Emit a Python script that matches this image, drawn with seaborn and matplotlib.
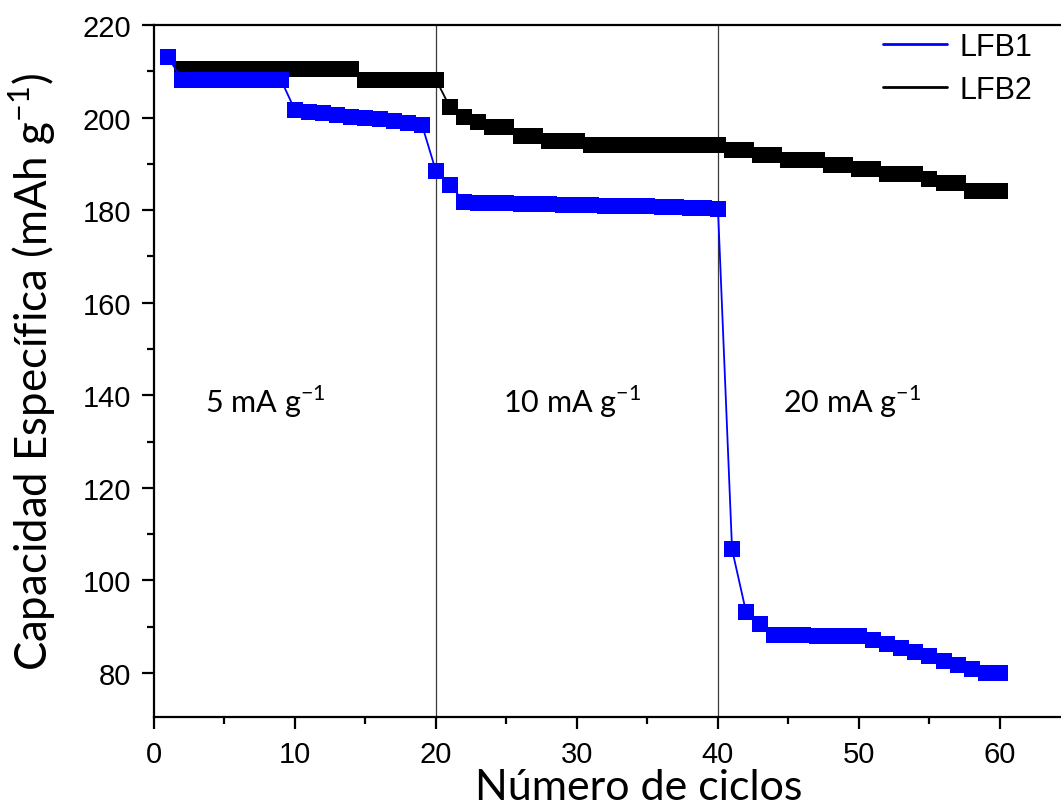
import matplotlib
matplotlib.use("Agg")
import matplotlib.pyplot as plt
import pandas as pd
import seaborn as sns
from matplotlib.lines import Line2D
from matplotlib.ticker import MultipleLocator

# Número de ciclo
cycles = list(range(1, 61))

# Capacidad específica (mAh/g) por ciclo
lfb1 = [213.0,
        208.2, 208.2, 208.2, 208.2, 208.2, 208.2, 208.2, 208.2,
        201.6, 201.3, 200.9, 200.6, 200.2, 199.9, 199.6, 199.3, 198.9, 198.5,
        188.4, 185.5,
        181.7, 181.6, 181.6, 181.5, 181.4, 181.4, 181.3, 181.2, 181.2, 181.1,
        181.0, 180.9, 180.9, 180.8, 180.7, 180.6, 180.5, 180.4, 180.3,
        106.7, 93.1, 90.6,
        88.3, 88.2, 88.2, 88.1, 88.1, 88.0, 87.9,
        87.2, 86.3, 85.4, 84.5, 83.6, 82.7, 81.8, 80.9, 80.1, 80.1]

lfb2 = [213.0,
        210.5, 210.5, 210.5, 210.5, 210.5, 210.5, 210.5, 210.5, 210.5, 210.5,
        210.5, 210.5, 210.5,
        208.2, 208.2, 208.2, 208.2, 208.2, 208.2,
        202.2, 200.2, 199.1, 198.0, 197.9, 196.0, 196.0, 195.0, 195.0, 195.0,
        194.0, 194.0, 194.0, 194.0, 194.0, 194.0, 194.0, 194.0, 194.0, 194.0,
        193.0, 193.0, 191.9, 191.9, 190.9, 190.9, 190.9, 189.8, 189.8, 188.9,
        188.9, 187.8, 187.8, 187.8, 186.8, 185.8, 185.8, 184.1, 184.1, 184.1]

series_names = ["LFB1", "LFB2"]
series_colors = {"LFB1": "#0000ff", "LFB2": "#000000"}

# Cambios de densidad de corriente
rate_boundaries = [20, 40]
rate_labels = ["5 mA g$^{\\mathregular{-1}}$",
               "10 mA g$^{\\mathregular{-1}}$",
               "20 mA g$^{\\mathregular{-1}}$"]
rate_label_x = [3.6, 24.75, 44.6]
rate_label_y = 136.4

df = pd.DataFrame({
    "ciclo": cycles + cycles,
    "capacidad": lfb2 + lfb1,
    "muestra": ["LFB2"] * len(cycles) + ["LFB1"] * len(cycles),
})

sns.set_style("ticks")
plt.rcParams["font.family"] = ["Liberation Sans", "DejaVu Sans"]
plt.rcParams["mathtext.fontset"] = "custom"
plt.rcParams["mathtext.rm"] = "Lato"
plt.rcParams["text.color"] = "black"
plt.rcParams["axes.labelcolor"] = "black"
plt.rcParams["xtick.color"] = "black"
plt.rcParams["ytick.color"] = "black"

label_font = ["Lato", "DejaVu Sans"]

fig = plt.figure(figsize=(10.61, 8.12), dpi=100)
ax = fig.add_axes([154 / 1061, 1 - 718 / 812, 1 - 154 / 1061, (718 - 26) / 812])

for x in rate_boundaries:
    ax.axvline(x, color="#3a3a3a", lw=0.9, zorder=1)

sns.lineplot(data=df, x="ciclo", y="capacidad", hue="muestra",
             hue_order=["LFB2", "LFB1"], palette=series_colors,
             marker="s", markersize=11.5, markeredgewidth=0,
             linewidth=1.3, legend=False, ax=ax, zorder=3)

ax.set_xlim(0, 64.33)
ax.xaxis.set_major_locator(MultipleLocator(10))
ax.xaxis.set_minor_locator(MultipleLocator(5))
ax.yaxis.set_major_locator(MultipleLocator(20))
ax.yaxis.set_minor_locator(MultipleLocator(10))
ax.set_yticks([80, 100, 120, 140, 160, 180, 200, 220])
ax.set_ylim(70.5, 220)

ax.tick_params(which="major", direction="out", length=8.5, width=1.6,
               labelsize=21, pad=8, color="black", labelcolor="black")
ax.tick_params(which="minor", direction="out", length=5, width=1.6,
               color="black")
ax.tick_params(top=False, right=False, which="both")
for side in ["left", "bottom", "top"]:
    ax.spines[side].set_linewidth(1.6)
    ax.spines[side].set_color("black")
ax.spines["right"].set_visible(False)

ax.set_xlabel("Número de ciclos", fontsize=31, family=label_font,
              fontweight="normal", color="black")
ax.set_ylabel("Capacidad Específica (mAh g$^{\\mathregular{-1}}$)", fontsize=31.5,
              family=label_font, fontweight="normal", color="black")
ax.xaxis.set_label_coords(0.534, -0.074)
ax.yaxis.set_label_coords(-0.106, 0.50)

for x, label in zip(rate_label_x, rate_labels):
    ax.text(x, rate_label_y, label, fontsize=22, family=label_font,
            ha="left", va="baseline", color="black")

handles = [Line2D([0], [0], color=series_colors[n], lw=2) for n in series_names]
ax.legend(handles, series_names, loc="upper left",
          bbox_to_anchor=((883 - 154) / 907, 0.99), frameon=False,
          fontsize=22, handlelength=2.1, handletextpad=0.4,
          labelspacing=0.42, borderpad=0, borderaxespad=0)

fig.savefig("out.png", dpi=100, facecolor="white")
